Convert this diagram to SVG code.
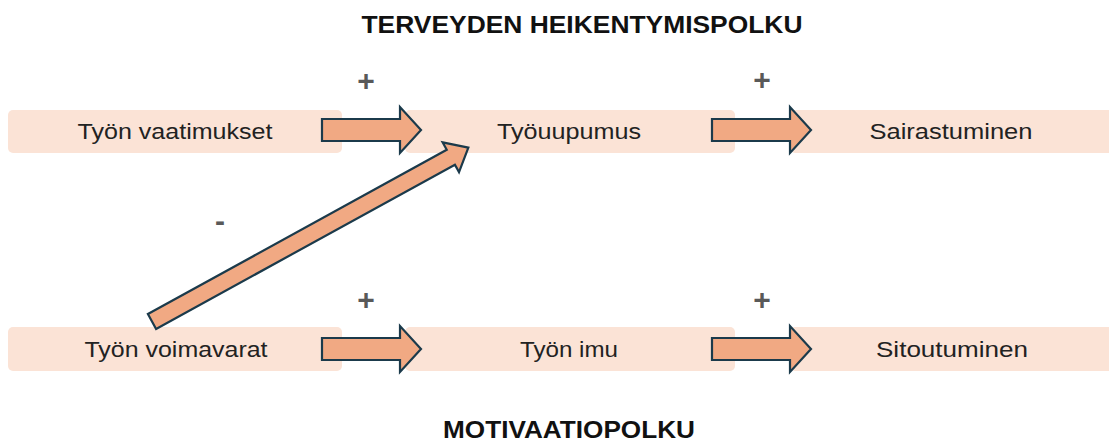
<svg xmlns="http://www.w3.org/2000/svg" width="1109" height="442" viewBox="0 0 1109 442">
<defs>
<style>
.box{fill:#FBE3D6;}
.lbl{font-family:"Liberation Sans","Open Sans",sans-serif;font-size:22px;fill:#222;text-anchor:middle;dominant-baseline:central;}
.sign{font-family:"Liberation Sans",sans-serif;font-size:30px;font-weight:bold;fill:#595959;text-anchor:middle;dominant-baseline:central;}
.title{font-family:"Liberation Sans",sans-serif;font-size:23px;font-weight:bold;fill:#111;text-anchor:middle;dominant-baseline:central;}
.arrow{fill:#F1A983;stroke:#1B3A4B;stroke-width:2.2;stroke-linejoin:miter;}
</style>
<polygon id="harrow" points="0,-11 78,-11 78,-23 99,0 78,23 78,11 0,11"/>
</defs>
<rect width="1109" height="442" fill="#fff"/>
<text class="title" x="582" y="25" textLength="441" lengthAdjust="spacingAndGlyphs">TERVEYDEN HEIKENTYMISPOLKU</text>
<text class="title" x="569" y="430" textLength="252" lengthAdjust="spacingAndGlyphs">MOTIVAATIOPOLKU</text>
<g id="n1"><rect class="box" x="8" y="110" width="334" height="43" rx="5"/><text class="lbl" x="175" y="131.5" textLength="195" lengthAdjust="spacingAndGlyphs">Työn vaatimukset</text></g>
<g id="n2"><rect class="box" x="405" y="110" width="330" height="43" rx="5"/><text class="lbl" x="569" y="131.5" textLength="144" lengthAdjust="spacingAndGlyphs">Työuupumus</text></g>
<g id="n3"><rect class="box" x="790" y="110" width="330" height="43" rx="5"/><text class="lbl" x="951" y="131.5" textLength="163" lengthAdjust="spacingAndGlyphs">Sairastuminen</text></g>
<g id="n4"><rect class="box" x="8" y="327" width="334" height="44" rx="5"/><text class="lbl" x="176" y="349" textLength="183" lengthAdjust="spacingAndGlyphs">Työn voimavarat</text></g>
<g id="n5"><rect class="box" x="405" y="327" width="330" height="44" rx="5"/><text class="lbl" x="569" y="349" textLength="98" lengthAdjust="spacingAndGlyphs">Työn imu</text></g>
<g id="n6"><rect class="box" x="790" y="327" width="330" height="44" rx="5"/><text class="lbl" x="952" y="349" textLength="152" lengthAdjust="spacingAndGlyphs">Sitoutuminen</text></g>
<g id="connectors">
<use href="#harrow" class="arrow" transform="translate(322,130)"/>
<use href="#harrow" class="arrow" transform="translate(712,130)"/>
<use href="#harrow" class="arrow" transform="translate(322,349)"/>
<use href="#harrow" class="arrow" transform="translate(712,349)"/>
<polygon class="arrow" points="0,-8.5 341,-8.5 341,-17 361,0 341,17 341,8.5 0,8.5" transform="translate(152,321.5) rotate(-28.8)"/>
</g>
<g id="signs">
<text class="sign" x="366" y="80">+</text>
<text class="sign" x="762" y="79">+</text>
<text class="sign" x="366" y="299">+</text>
<text class="sign" x="762" y="299">+</text>
<text class="sign" x="220" y="220">-</text>
</g>
</svg>
